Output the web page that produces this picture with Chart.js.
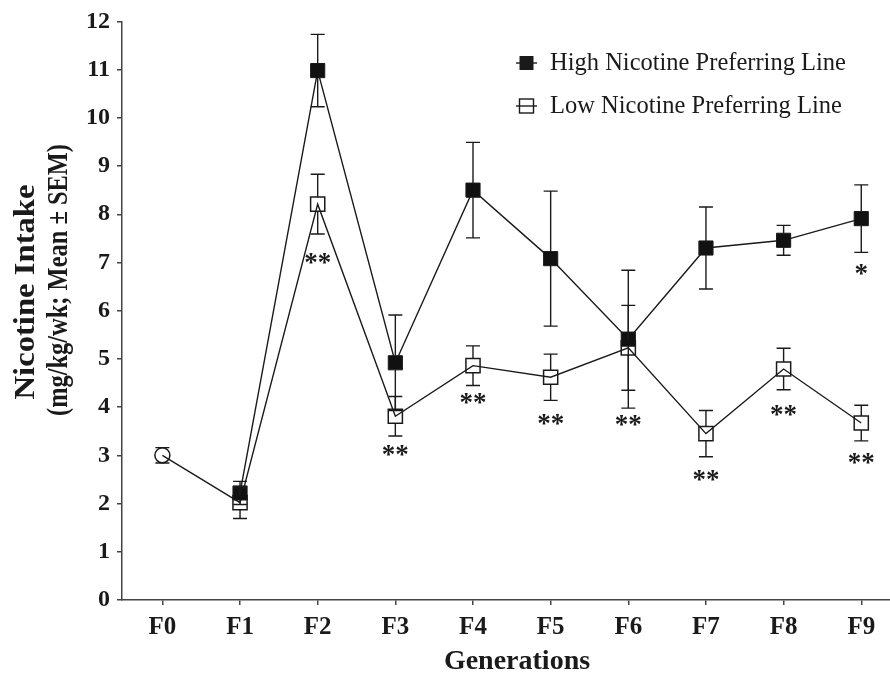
<!DOCTYPE html>
<html>
<head>
<meta charset="utf-8">
<script src="https://cdn.jsdelivr.net/npm/chart.js@4.4.0/dist/chart.umd.min.js"></script>
<style>
  html, body { margin: 0; padding: 0; background: #fff; }
  #wrap { width: 890px; height: 679px; }
</style>
</head>
<body>
<div id="wrap"><canvas id="chart"></canvas></div>
<script>
// Generations on the x axis
const generations = ['F0', 'F1', 'F2', 'F3', 'F4', 'F5', 'F6', 'F7', 'F8', 'F9'];

// High nicotine preferring line (mean and SEM, mg/kg/wk)
const highMean = [null, 2.22, 10.98, 4.92, 8.50, 7.08, 5.41, 7.30, 7.46, 7.91];
const highSem  = [null, 0.24, 0.75, 0.99, 0.99, 1.40, 1.43, 0.85, 0.31, 0.70];

// Low nicotine preferring line (F0 is the founder generation)
const lowMean = [3.00, 2.02, 8.21, 3.81, 4.86, 4.62, 5.23, 3.45, 4.79, 3.67];
const lowSem  = [0.16, 0.33, 0.62, 0.41, 0.41, 0.48, 0.88, 0.48, 0.43, 0.37];

// Significance marks and the value they sit at
const highStars  = [null, null, null, null, null, null, null, null, null, '*'];
const highStarAt = [null, null, null, null, null, null, null, null, null, 6.83];
const lowStars   = [null, null, '**', '**', '**', '**', '**', '**', '**', '**'];
const lowStarAt  = [null, null, 7.06, 3.07, 4.14, 3.72, 3.69, 2.55, 3.90, 2.91];

const serif = "'Liberation Serif', 'Times New Roman', serif";
const ink = '#1a1a1a';

const toPoints = arr => arr.map((v, i) => ({ x: i, y: v }));

// error bars, drawn outside the marker
const errorBars = {
    id: 'errorBars',
    afterDatasetsDraw(chart) {
        const ctx = chart.ctx;
        const xs = chart.scales.x, ys = chart.scales.y;
        const sets = [[highMean, highSem], [lowMean, lowSem]];
        ctx.save();
        ctx.strokeStyle = ink;
        ctx.lineWidth = 1.4;
        sets.forEach(([mean, sem]) => {
            mean.forEach((m, i) => {
                if (m == null) return;
                const px = xs.getPixelForValue(i);
                const py = ys.getPixelForValue(m);
                const top = ys.getPixelForValue(m + sem[i]);
                const bot = ys.getPixelForValue(m - sem[i]);
                const half = 7;
                ctx.beginPath();
                if (top < py - half) { ctx.moveTo(px, py - half); ctx.lineTo(px, top); }
                if (bot > py + half) { ctx.moveTo(px, py + half); ctx.lineTo(px, bot); }
                ctx.moveTo(px - 7, top); ctx.lineTo(px + 7, top);
                ctx.moveTo(px - 7, bot); ctx.lineTo(px + 7, bot);
                ctx.stroke();
            });
        });
        // asterisks
        ctx.fillStyle = ink;
        ctx.font = 'bold 27px ' + serif;
        ctx.textAlign = 'center';
        ctx.textBaseline = 'middle';
        [[highStars, highStarAt], [lowStars, lowStarAt]].forEach(([marks, at]) => {
            marks.forEach((s, i) => {
                if (!s) return;
                ctx.fillText(s, xs.getPixelForValue(i), ys.getPixelForValue(at[i]) + 4);
            });
        });
        ctx.restore();
    }
};

// draw a string squeezed or stretched to a given length
function fitText(ctx, text, x, y, len) {
    const w = ctx.measureText(text).width;
    ctx.save();
    ctx.translate(x, y);
    ctx.scale(len / w, 1);
    ctx.fillText(text, 0, 0);
    ctx.restore();
}

// legend and axis titles
const decor = {
    id: 'decor',
    afterDraw(chart) {
        const ctx = chart.ctx;
        ctx.save();
        ctx.fillStyle = ink;
        ctx.strokeStyle = ink;

        // legend
        const rows = [
            { text: 'High Nicotine Preferring Line', filled: true, y: 63 },
            { text: 'Low Nicotine Preferring Line', filled: false, y: 106 }
        ];
        rows.forEach(r => {
            ctx.lineWidth = 1.4;
            ctx.beginPath();
            ctx.moveTo(516, r.y); ctx.lineTo(537, r.y);
            ctx.stroke();
            if (r.filled) {
                ctx.fillRect(519.5, r.y - 7, 14, 14);
            } else {
                ctx.strokeRect(519.5, r.y - 7, 14, 14);
            }
            ctx.font = '24.5px ' + serif;
            ctx.textAlign = 'left';
            ctx.textBaseline = 'middle';
            ctx.fillText(r.text, 550, r.y + 1);
        });

        // x title
        ctx.font = 'bold 28px ' + serif;
        ctx.textAlign = 'center';
        ctx.textBaseline = 'middle';
        ctx.fillText('Generations', 517, 662);

        // y title, two lines
        ctx.rotate(-Math.PI / 2);
        ctx.font = 'bold 29px ' + serif;
        fitText(ctx, 'Nicotine Intake', -292, 27, 215);
        fitText(ctx, '(mg/kg/wk; Mean \u00b1 SEM)', -280, 60, 272);
        ctx.restore();
    }
};

const tickFont = { family: serif, size: 24, weight: 'bold' };

new Chart(document.getElementById('chart'), {
    type: 'line',
    data: {
        datasets: [
            {
                label: 'High Nicotine Preferring Line',
                data: toPoints(highMean),
                borderColor: ink,
                backgroundColor: ink,
                borderWidth: 1.4,
                pointStyle: 'rect',
                pointRadius: 10,
                pointBorderWidth: 1,
                pointBackgroundColor: '#111',
                pointBorderColor: ink,
                tension: 0,
                spanGaps: false
            },
            {
                label: 'Low Nicotine Preferring Line',
                data: toPoints(lowMean),
                borderColor: ink,
                backgroundColor: 'rgba(0,0,0,0)',
                borderWidth: 1.4,
                pointStyle: generations.map((g, i) => i === 0 ? 'circle' : 'rect'),
                pointRadius: generations.map((g, i) => i === 0 ? 7.5 : 10),
                pointBorderWidth: 1.5,
                pointBackgroundColor: 'rgba(0,0,0,0)',
                pointBorderColor: ink,
                tension: 0
            }
        ]
    },
    options: {
        responsive: true,
        maintainAspectRatio: false,
        animation: false,
        layout: { autoPadding: false, padding: { top: 20, right: 0, left: 0, bottom: 0 } },
        plugins: {
            legend: { display: false },
            tooltip: { enabled: false }
        },
        scales: {
            x: {
                type: 'linear',
                min: -0.52,
                max: 9.37,
                afterBuildTicks: s => { s.ticks = generations.map((g, i) => ({ value: i })); },
                afterFit: s => { s.height = 79; s.paddingRight = 0; s.paddingLeft = 0; },
                ticks: {
                    callback: v => generations[v],
                    font: { family: serif, size: 25, weight: 'bold' },
                    color: ink,
                    padding: 8,
                    autoSkip: false,
                    maxRotation: 0
                },
                grid: { drawOnChartArea: false, drawTicks: true, tickLength: 5, color: '#444', lineWidth: 1.5 },
                border: { display: true, color: '#444', width: 1.5 }
            },
            y: {
                min: 0,
                max: 12,
                afterFit: s => { s.width = 122; },
                ticks: { stepSize: 1, font: tickFont, color: ink, padding: 7 },
                grid: { drawOnChartArea: false, drawTicks: true, tickLength: 5, color: '#444', lineWidth: 1.5 },
                border: { display: true, color: '#444', width: 1.5 }
            }
        }
    },
    plugins: [errorBars, decor]
});
</script>
</body>
</html>
